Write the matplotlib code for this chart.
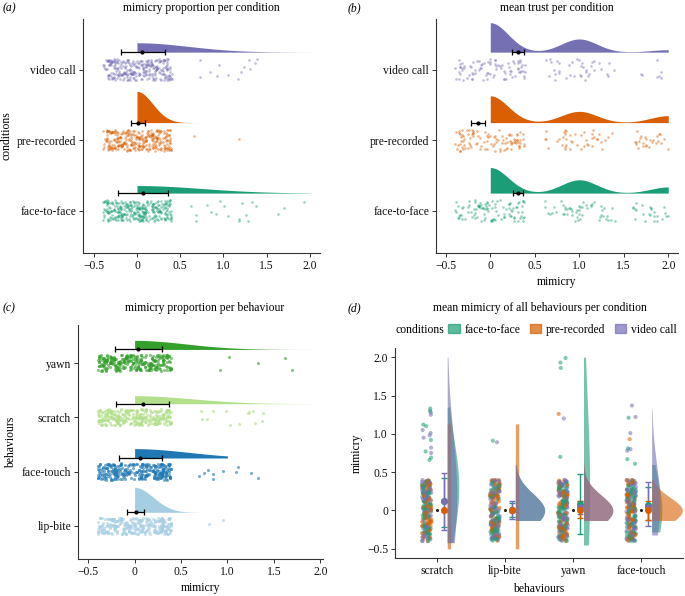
import numpy as np
import matplotlib
matplotlib.use('Agg')
import matplotlib.pyplot as plt
from matplotlib.patches import Patch

plt.rcParams['font.family'] = ['Liberation Serif', 'DejaVu Serif']
plt.rcParams['font.size'] = 8.4

# ---------------- data ----------------
conditions = ['face-to-face', 'pre-recorded', 'video call']
cond_colors = ['#1B9E77', '#D95F02', '#7570B3']
x_ticks = [-0.5, 0, 0.5, 1.0, 1.5, 2.0]
x_ticklabels = ['\u22120.5', '0', '0.5', '1.0', '1.5', '2.0']

# (a) mimicry proportion per condition
a_zero_n = [300, 300, 280]
a_high_ftf = [0.63, 0.68, 0.68, 0.81, 0.86, 0.91, 0.96, 1.01, 1.05, 1.18, 1.18,
              1.21, 1.26, 1.28, 1.33, 1.38, 1.63, 1.70, 1.93]
a_high_pre = [0.66, 1.18]
a_high_vid = [0.73, 0.73, 0.84, 0.92, 0.95, 1.05, 1.17, 1.20, 1.24, 1.29, 1.31,
              1.36, 1.39]
a_mean = [0.07, 0.01, 0.06]
a_lo = [-0.22, -0.07, -0.19]
a_hi = [0.36, 0.09, 0.32]
a_dens_sd = [0.75, 0.18, 0.60]
a_dens_max = [2.0, 1.0, 2.0]

# (b) mean trust per condition
b_levels = [0, 1, 2]
b_counts_ftf = [100, 52, 24]
b_counts_pre = [100, 42, 26]
b_counts_vid = [85, 38, 7]
b_mean = [0.31, -0.14, 0.31]
b_lo = [0.26, -0.22, 0.24]
b_hi = [0.37, -0.06, 0.38]

# (c) mimicry proportion per behaviour
behaviours_c = ['lip-bite', 'face-touch', 'scratch', 'yawn']
beh_colors = ['#A6CEE3', '#1F78B4', '#B2DF8A', '#33A02C']
c_zero_n = [280, 280, 280, 280]
c_high_lip = [0.80, 0.95]
c_high_face = [0.69, 0.75, 0.79, 0.84, 0.85, 0.95, 1.09, 1.11, 1.25, 1.33]
c_high_scr = [0.72, 0.73, 0.78, 0.85, 0.99, 1.03, 1.12, 1.22, 1.23, 1.28, 1.30,
              1.37, 1.38]
c_high_yawn = [0.92, 1.02, 1.33, 1.62, 1.70]
c_mean = [0.02, 0.06, 0.09, 0.04]
c_lo = [-0.08, -0.17, -0.20, -0.21]
c_hi = [0.10, 0.29, 0.37, 0.29]
c_dens_sd = [0.20, 0.58, 0.62, 0.55]
c_dens_max = [1.0, 1.0, 2.0, 2.0]

# (d) mean mimicry of all behaviours per condition
behaviours_d = ['scratch', 'lip-bite', 'yawn', 'face-touch']
d_zero_n = 70
d_high_ftf = [[1.33, 1.30, 1.12, 1.10, 0.92, 0.77, 0.69, 0.66], [0.91],
              [1.99, 1.93, 1.86, 0.70], [1.21, 0.81, 0.67, 0.61]]
d_high_pre = [[], [], [1.26], [0.93]]
d_high_vid = [[1.28, 1.25, 1.05, 1.01, 0.98, 0.95, 0.82, 0.75], [0.89],
              [1.20], [1.37, 1.22, 1.01, 0.80, 0.78]]
# error bars: rows = condition, columns = behaviour
d_mean = [[0.12, 0.00, 0.08, 0.07], [0.00, 0.00, 0.01, 0.01], [0.12, 0.01, 0.04, 0.05]]
d_lo = [[-0.21, -0.08, -0.31, -0.12], [-0.02, -0.02, -0.10, -0.12], [-0.25, -0.11, -0.05, -0.20]]
d_hi = [[0.43, 0.10, 0.48, 0.31], [0.02, 0.02, 0.12, 0.12], [0.49, 0.12, 0.12, 0.37]]
# half-violin densities
d_v_lo = [[-0.42, -0.13, -0.45, -0.28], [-0.50, -0.50, -0.13, -0.13], [-0.42, -0.13, -0.13, -0.32]]
d_v_hi = [[1.35, 0.60, 2.00, 0.60], [1.13, 1.13, 0.60, 0.40], [2.00, 0.60, 1.13, 1.32]]
d_v_mid = [[0.30, 0.00, 0.30, 0.00], [0.00, 0.00, 0.00, 0.00], [0.20, 0.00, 0.00, 0.10]]
d_v_sd = [[0.60, 0.22, 1.15, 0.40], [10.0, 10.0, 0.20, 0.17], [0.80, 0.22, 0.20, 0.50]]
d_v_peak = [[0.17, 0.43, 0.09, 0.15], [0.05, 0.05, 0.43, 0.45], [0.14, 0.43, 0.43, 0.12]]


# ---------------- helpers ----------------
def spread(n, k):
    # deterministic jitter offsets in [-0.5, 0.5) (hash of the point index)
    i = np.arange(1, n + 1) + 131.0 * k
    u = np.sin(i * 12.9898 + 78.233) * 43758.5453
    v = np.sin(i * 39.3468 + 11.135) * 24634.6345
    return u % 1 - 0.5, v % 1 - 0.5


def style(ax):
    for s in ['top', 'right']:
        ax.spines[s].set_visible(False)
    for s in ['left', 'bottom']:
        ax.spines[s].set_color('#333333')
        ax.spines[s].set_linewidth(0.8)
    ax.tick_params(length=3, width=0.7, color='#333333', labelcolor='#111111',
                   labelsize=8.4, pad=2)


def raincloud_h(ax, pos, vals, zeros, color, k, dens_x, dens_y, area, s, alpha):
    ju, jv = spread(zeros, k)
    xs = np.concatenate([0.8 * ju, np.array(vals, float)])
    _, jv2 = spread(len(vals), k + 7)
    ys = pos + 0.3 * np.concatenate([jv, jv2])
    ax.scatter(xs, ys, s=s, color=color, alpha=alpha, lw=0)
    ax.fill_between(dens_x, pos + 0.25, pos + 0.25 + area * dens_y, color=color, lw=0)


fig = plt.figure(figsize=(6.85, 5.96), dpi=100)
W, H = 685, 596


def add_ax(l, t, r, b):
    return fig.add_axes([l / W, 1 - b / H, (r - l) / W, (b - t) / H])


# ---------------- (a) ----------------
ax = add_ax(83, 19, 320, 253)
highs = [a_high_ftf, a_high_pre, a_high_vid]
for i in range(3):
    x = np.linspace(0, a_dens_max[i], 300)
    f = np.exp(-0.5 * (x / a_dens_sd[i]) ** 2)
    f = f / np.trapezoid(f, x)
    raincloud_h(ax, i + 1, highs[i], a_zero_n[i], cond_colors[i], i, x, f, 0.10, 3.5, 0.45)
    ax.errorbar(a_mean[i], i + 1.25, xerr=[[a_mean[i] - a_lo[i]], [a_hi[i] - a_mean[i]]],
                fmt='o', color='black', ms=2, capsize=2.5, lw=0.9, capthick=0.9, zorder=5)
ax.set_xlim(-0.624, 2.116)
ax.set_ylim(0.4, 3.72)
ax.set_yticks([1, 2, 3], conditions)
ax.set_xticks(x_ticks, x_ticklabels)
ax.set_ylabel('conditions', fontsize=8.4, labelpad=3)
style(ax)
fig.text(201 / W, 1 - 8 / H, 'mimicry proportion per condition', ha='center', va='center')
fig.text(3 / W, 1 - 8 / H, '(a)', style='italic', ha='left', va='center')

# ---------------- (b) ----------------
ax = add_ax(436, 19, 678, 253)
b_counts = [b_counts_ftf, b_counts_pre, b_counts_vid]
for i in range(3):
    cnt = b_counts[i]
    x = np.linspace(0, 2, 400)
    f = sum(c * np.exp(-0.5 * ((x - lv) / 0.2) ** 2) for c, lv in zip(cnt, b_levels))
    f = f / (sum(cnt) * 0.2 * np.sqrt(2 * np.pi))
    ax.fill_between(x, i + 1.25, i + 1.25 + 0.32 * f, color=cond_colors[i], lw=0)
    for j, (c, lv) in enumerate(zip(cnt, b_levels)):
        ju, jv = spread(c, 3 * i + j + 20)
        px = lv + 0.8 * ju
        px = np.where(px > 2, 4 - px, px)
        ax.scatter(px, i + 1 + 0.3 * jv, s=3.5, color=cond_colors[i], alpha=0.45, lw=0)
    ax.errorbar(b_mean[i], i + 1.25, xerr=[[b_mean[i] - b_lo[i]], [b_hi[i] - b_mean[i]]],
                fmt='o', color='black', ms=2, capsize=2.5, lw=0.9, capthick=0.9, zorder=5)
ax.set_xlim(-0.61, 2.11)
ax.set_ylim(0.4, 3.72)
ax.set_yticks([1, 2, 3], conditions)
ax.set_xticks(x_ticks, x_ticklabels)
ax.set_xlabel('mimicry', fontsize=8.4, labelpad=3)
style(ax)
fig.text(557 / W, 1 - 8 / H, 'mean trust per condition', ha='center', va='center')
fig.text(348 / W, 1 - 8 / H, '(b)', style='italic', ha='left', va='center')

# ---------------- (c) ----------------
ax = add_ax(78, 325, 323, 559)
highs = [c_high_lip, c_high_face, c_high_scr, c_high_yawn]
for i in range(4):
    x = np.linspace(0, c_dens_max[i], 300)
    f = np.exp(-0.5 * (x / c_dens_sd[i]) ** 2)
    f = f / np.trapezoid(f, x)
    raincloud_h(ax, i + 1, highs[i], c_zero_n[i], beh_colors[i], i + 40, x, f, 0.115, 5, 0.6)
    ax.errorbar(c_mean[i], i + 1.25, xerr=[[c_mean[i] - c_lo[i]], [c_hi[i] - c_mean[i]]],
                fmt='o', color='black', ms=2, capsize=2.5, lw=0.9, capthick=0.9, zorder=5)
ax.set_xlim(-0.61, 2.03)
ax.set_ylim(0.39, 4.70)
ax.set_yticks([1, 2, 3, 4], behaviours_c)
ax.set_xticks(x_ticks, x_ticklabels)
ax.set_ylabel('behaviours', fontsize=8.4, labelpad=3)
ax.set_xlabel('mimicry', fontsize=8.4, labelpad=3)
style(ax)
fig.text(205 / W, 1 - 308 / H, 'mimicry proportion per behaviour', ha='center', va='center')
fig.text(3 / W, 1 - 308 / H, '(c)', style='italic', ha='left', va='center')

# ---------------- (d) ----------------
ax = add_ax(395, 348, 683, 558)
d_highs = [d_high_ftf, d_high_pre, d_high_vid]
px_all, py_all, col_all = [], [], []
for ci in range(3):
    for bi in range(4):
        vals = np.concatenate([np.zeros(d_zero_n), np.array(d_highs[ci][bi], float)])
        ju, jv = spread(len(vals), 10 * ci + bi + 60)
        yoff = np.where(vals == 0, 0.8 * jv, 0)
        px_all.append(bi + 1 - 0.15 + 0.14 * ju)
        py_all.append(vals + yoff)
        col_all += [cond_colors[ci]] * len(vals)
px_all = np.concatenate(px_all)
py_all = np.concatenate(py_all)
order = np.argsort((np.arange(len(px_all)) * 0.6180339887) % 1)
ax.scatter(px_all[order], py_all[order], s=9, c=np.array(col_all)[order], alpha=0.55, lw=0)
for bi in range(4):
    ax.scatter(bi + 1, 0, s=1.5, color='#222222', zorder=4)
    for ci in range(3):
        y = np.linspace(d_v_lo[ci][bi], d_v_hi[ci][bi], 300)
        f = np.exp(-0.5 * ((y - d_v_mid[ci][bi]) / d_v_sd[ci][bi]) ** 2)
        f = f / f.max() * d_v_peak[ci][bi]
        ax.fill_betweenx(y, bi + 1.15, bi + 1.15 + f, color=cond_colors[ci], alpha=0.6, lw=0)
    for ci in [0, 2, 1]:
        m = d_mean[ci][bi]
        ax.errorbar(bi + 1.1, m, yerr=[[m - d_lo[ci][bi]], [d_hi[ci][bi] - m]], fmt='o',
                    color=cond_colors[ci], ms=4, capsize=2, lw=1, capthick=1, zorder=5)
ax.set_xlim(0.384, 4.61)
ax.set_ylim(-0.62, 2.12)
ax.set_xticks([1, 2, 3, 4], behaviours_d)
ax.set_yticks(x_ticks, x_ticklabels)
ax.set_xlabel('behaviours', fontsize=8.4, labelpad=4)
ax.set_ylabel('mimicry', fontsize=8.4, labelpad=3)
style(ax)
fig.text(540 / W, 1 - 308 / H, 'mean mimicry of all behaviours per condition', ha='center', va='center')
fig.text(348 / W, 1 - 308 / H, '(d)', style='italic', ha='left', va='center')
fig.text(395 / W, 1 - 330 / H, 'conditions', ha='left', va='center')
handles = [Patch(facecolor=c, edgecolor=c, alpha=0.7) for c in cond_colors]
fig.legend(handles, conditions, loc='center left', bbox_to_anchor=(448 / W, 1 - 330 / H),
           ncol=3, frameon=False, handlelength=1.0, handleheight=0.8, handletextpad=0.4,
           columnspacing=0.8, borderaxespad=0, borderpad=0, fontsize=8.4)

fig.savefig('out.png', dpi=100)
